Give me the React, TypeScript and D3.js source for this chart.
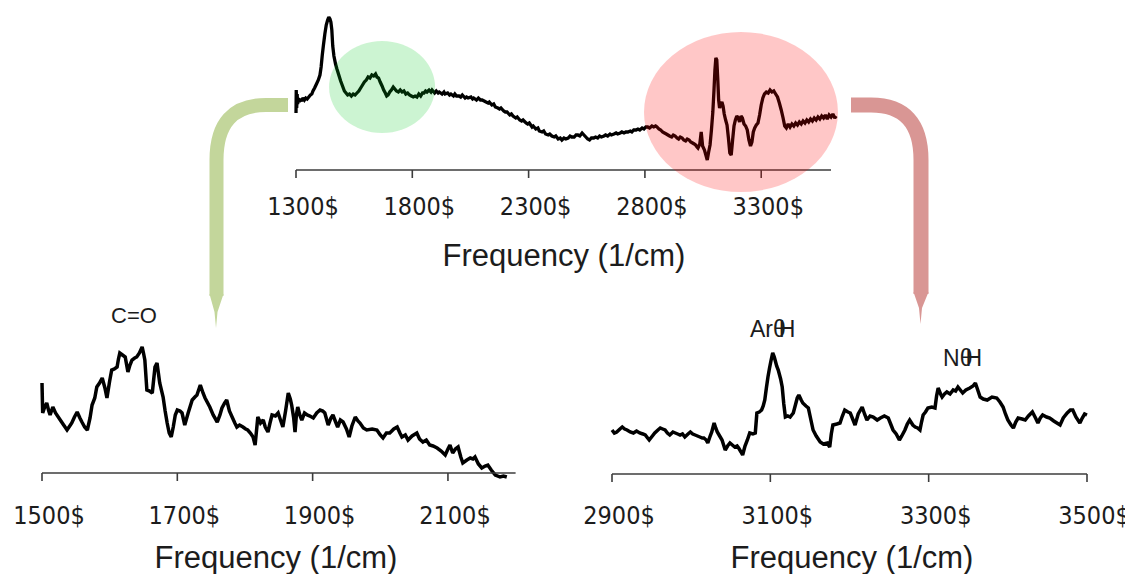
import React from "react";
import * as d3 from "d3";

// ---------- data ----------
const topTicks = [1300, 1800, 2300, 2800, 3300];
const leftTicks = [1500, 1700, 1900, 2100];
const rightTicks = [2900, 3100, 3300, 3500];
const tickSuffix = "$";
const axisTitle = "Frequency (1/cm)";

// full spectrum [frequency, intensity]
const topSpectrum: [number, number][] = [
  [1300,57],[1301,80],[1303,62],[1305,76],[1307,66],[1310,72],[1314,68],[1318,71],[1324,69],[1330,72],[1336,70],[1342,72],[1348,71],[1355,73],[1362,75],[1368,76],[1373,79],[1380,82],[1388,86],[1396,90],[1403,95],[1408,103],[1413,115],[1418,125],[1424,136],[1430,145],[1436,150],[1441,153],[1446,151],[1450,148],[1454,140],[1458,124],[1463,114],[1470,106],[1476,101],[1484,95],[1492,89],[1500,84],[1508,79],[1515,77],[1522,75],[1530,76],[1538,74],[1546,76],[1554,75],[1562,77],[1570,79],[1578,82],[1586,85],[1594,88],[1602,90],[1610,93],[1618,92],[1626,95],[1634,94],[1642,96],[1648,93],[1655,92],[1662,88],[1670,84],[1677,80],[1684,77],[1690,74],[1696,75],[1703,78],[1710,80],[1718,83],[1725,81],[1732,79],[1740,78],[1748,80],[1756,78],[1764,79],[1772,76],[1780,77],[1788,75],[1796,74],[1804,73],[1812,74],[1820,73],[1828,76],[1836,74],[1844,77],
  [1850,77],[1857,79],[1863,78],[1872,80],[1880,78],[1885,80],[1896,77],[1903,79],[1911,77],[1916,78],[1928,76],[1936,78],[1941,76],[1952,77],[1960,75],[1966,76],[1977,74],[1983,76],[1990,74],[2001,74],[2008,73],[2015,75],[2027,72],[2033,73],[2040,72],[2052,73],[2059,71],[2064,72],[2076,70],[2084,72],[2093,70],[2100,70],[2109,69],[2117,68],[2126,67],[2131,68],[2142,65],[2150,66],[2157,63],[2168,62],[2175,61],[2181,62],[2193,59],[2200,58],[2207,58],[2219,55],[2226,56],[2233,54],[2245,52],[2251,53],[2262,50],[2270,49],[2276,50],[2289,47],[2296,46],[2303,47],[2315,43],[2320,44],[2331,41],[2340,42],[2346,39],[2358,38],[2365,39],[2373,36],[2384,35],[2391,36],[2400,34],[2410,33],[2417,34],[2427,31],[2436,32],[2443,30],[2452,32],[2460,31],[2470,32],[2478,34],[2485,33],[2496,33],[2504,35],[2512,35],[2520,34],[2530,37],[2538,35],[2546,33],[2554,31],[2562,30],[2570,32],[2580,32],[2588,33],[2597,32],[2605,34],[2613,33],[2624,34],[2631,35],[2640,34],[2650,36],[2656,35],[2667,36],[2676,37],[2683,36],[2694,37],[2701,38],[2710,37],[2718,38],[2727,38],[2737,39],[2744,38],[2752,40],[2762,40],[2770,41],[2778,40],[2788,42],[2796,41],[2804,43],[2812,43],[2820,42],[2830,44],[2838,43],[2846,44],[2852,43],[2860,41],[2868,40],[2876,38],[2884,37],[2892,36],[2899,35],
  [2906,34],[2915,33],[2922,35],[2930,34],[2938,32],[2945,31],[2952,33],[2960,32],[2967,30],[2975,29],[2982,31],[2990,30],[2997,28],[3005,27],[3012,26],[3018,25],[3024,23],[3028,22],[3036,26],[3042,38],[3048,24],[3056,20],[3062,15],[3068,10],[3074,18],[3080,25],[3086,40],[3092,58],[3097,80],[3101,100],[3105,112],[3109,110],[3113,92],[3117,70],[3121,62],[3126,66],[3131,68],[3136,64],[3141,56],[3147,50],[3153,45],[3159,32],[3165,17],[3171,15],[3177,30],[3183,44],[3189,50],[3195,54],[3201,52],[3207,48],[3213,54],[3219,52],[3226,46],[3233,44],[3240,40],[3247,30],[3254,24],[3260,28],[3266,38],[3272,42],[3279,45],[3286,47],[3293,55],[3300,65],[3307,72],[3314,76],[3322,78],[3330,77],[3338,80],[3346,78],[3354,79],[3362,76],[3370,73],[3378,67],[3386,60],[3394,52],[3401,44],[3408,42],[3416,46],[3424,43],[3432,46],[3440,44],[3448,47],[3456,45],[3464,48],[3472,46],[3480,49],[3488,47],[3496,50],[3504,48],[3512,51],[3520,49],[3528,52],[3536,50],[3544,53],[3552,51],[3560,54],[3568,52],[3576,55],[3584,51],[3592,55],[3600,53],[3608,56],[3616,52],[3622,54]
];

// C=O region zoom
const leftSpectrum: [number, number][] = [
  [1500,90],[1501,60],[1504,66],[1507,70],[1510,62],[1512,58],[1516,66],[1520,60],[1527,53],[1532,48],[1537,43],[1541,47],[1544,50],[1548,56],[1552,61],[1556,55],[1559,51],[1563,46],[1567,43],[1571,55],[1574,68],[1578,75],[1581,86],[1585,90],[1589,95],[1593,85],[1596,75],[1600,92],[1603,103],[1607,104],[1611,106],[1613,114],[1615,120],[1619,118],[1623,116],[1627,101],[1630,108],[1633,113],[1637,115],[1640,116],[1644,120],[1648,126],[1650,120],[1652,113],[1655,83],[1659,82],[1663,80],[1667,106],[1670,110],[1672,100],[1674,90],[1679,76],[1682,62],[1685,50],[1688,40],[1691,36],[1694,46],[1697,58],[1700,63],[1704,62],[1707,60],[1711,48],[1716,60],[1722,73],[1726,76],[1729,78],[1734,88],[1738,80],[1741,75],[1748,66],[1753,58],[1759,51],[1763,58],[1766,65],[1770,70],[1773,73],[1777,62],[1781,56],[1785,50],[1788,46],[1792,48],[1797,46],[1801,44],[1804,43],[1808,40],[1812,36],[1815,28],[1819,56],[1823,50],[1827,53],[1830,46],[1834,41],[1837,50],[1840,58],[1845,57],[1849,60],[1853,52],[1856,46],[1860,62],[1864,80],[1867,74],[1869,68],[1872,55],[1874,41],[1876,58],[1878,66],[1881,58],[1884,53],[1888,60],[1892,58],[1896,57],[1901,55],[1906,60],[1911,63],[1915,62],[1918,60],[1923,48],[1927,55],[1930,58],[1934,51],[1937,46],[1941,53],[1945,51],[1950,44],[1954,36],[1958,47],[1963,56],[1967,52],[1970,50],[1975,45],[1980,43],[1988,44],[1995,43],[2000,38],[2004,35],[2009,40],[2014,40],[2020,44],[2025,46],[2029,40],[2032,36],[2037,38],[2041,33],[2047,37],[2054,40],[2058,34],[2063,31],[2068,33],[2073,28],[2078,27],[2084,25],[2090,22],[2096,18],[2100,24],[2103,28],[2107,20],[2111,24],[2115,26],[2119,16],[2122,10],[2128,13],[2133,15],[2137,14],[2140,16],[2145,9],[2150,5],[2155,7],[2159,8],[2164,3],[2170,-2],[2177,-4],[2182,-3],[2187,-4]
];

// Ar-H / N-H region zoom
const rightSpectrum: [number, number][] = [
  [2900,44],[2903,41],[2906,42],[2910,45],[2913,47],[2916,45],[2919,44],[2923,42],[2927,41],[2931,43],[2935,41],[2939,40],[2942,39],[2945,36],[2947,34],[2951,38],[2954,41],[2958,44],[2961,46],[2964,45],[2967,44],[2970,41],[2973,39],[2977,42],[2980,41],[2983,40],[2986,39],[2989,40],[2992,37],[2996,40],[2999,42],[3002,40],[3005,39],[3008,38],[3011,37],[3014,36],[3016,36],[3019,34],[3021,31],[3024,38],[3026,42],[3029,51],[3031,46],[3033,42],[3036,38],[3039,34],[3041,29],[3043,24],[3046,28],[3049,31],[3052,29],[3055,27],[3058,28],[3060,26],[3063,22],[3065,19],[3068,28],[3071,34],[3074,41],[3078,40],[3081,41],[3083,61],[3086,62],[3089,64],[3091,68],[3093,74],[3095,86],[3097,97],[3099,106],[3101,114],[3103,121],[3105,117],[3106,114],[3108,108],[3110,104],[3113,95],[3115,87],[3117,70],[3119,57],[3122,58],[3125,57],[3127,59],[3129,61],[3132,70],[3134,76],[3136,79],[3139,74],[3141,71],[3145,68],[3148,66],[3151,55],[3154,44],[3158,38],[3163,32],[3167,30],[3172,31],[3175,27],[3177,40],[3179,49],[3184,50],[3188,51],[3191,58],[3194,64],[3198,62],[3201,61],[3204,55],[3207,49],[3211,60],[3216,67],[3219,60],[3222,54],[3226,58],[3230,57],[3235,54],[3239,56],[3244,58],[3249,56],[3252,50],[3255,44],[3259,40],[3263,34],[3266,38],[3270,44],[3273,50],[3276,54],[3280,49],[3283,47],[3286,46],[3289,44],[3291,52],[3293,59],[3296,62],[3299,66],[3304,67],[3308,66],[3310,78],[3312,86],[3315,80],[3317,77],[3320,80],[3323,82],[3327,80],[3331,84],[3334,83],[3337,87],[3340,84],[3343,81],[3347,84],[3352,86],[3356,88],[3359,91],[3362,84],[3365,77],[3369,75],[3374,74],[3380,77],[3386,76],[3390,72],[3394,67],[3397,60],[3400,54],[3404,49],[3407,46],[3410,52],[3413,56],[3418,55],[3422,54],[3426,58],[3431,62],[3435,56],[3438,51],[3441,56],[3444,59],[3449,57],[3453,56],[3458,53],[3462,51],[3466,49],[3470,56],[3475,61],[3479,64],[3482,64],[3486,57],[3491,51],[3494,56],[3497,60],[3500,59]
];

// annotations
const annoCO = "C=O";
const annoArH = ["Ar", "θ", "H"];
const annoNH = ["N", "θ", "H"];

// ---------- drawing ----------
const W = 1125;
const H = 574;
const tickFont = "'DejaVu Sans Condensed', 'DejaVu Sans', sans-serif";
const titleFont = "'Liberation Sans', Arial, sans-serif";
const textColor = "#1c1c1c";
const axisColor = "#3c3c3c";

type Panel = {
  x: d3.ScaleLinear<number, number>;
  y: d3.ScaleLinear<number, number>;
  axisY: number;
  domainEnd: number;
  ticks: number[];
  data: [number, number][];
  titleX: number;
  titleY: number;
  tickLabelY: number;
  strokeW: number;
};

function PanelView({ p }: { p: Panel }) {
  const line = d3
    .line<[number, number]>()
    .x((d) => p.x(d[0]))
    .y((d) => p.y(d[1]))
    .curve(d3.curveLinear);
  const [x0] = p.x.domain();
  return (
    <g>
      <path
        d={line(p.data) || ""}
        fill="none"
        stroke="#000"
        strokeWidth={p.strokeW}
        strokeLinejoin="miter"
        strokeMiterlimit={2}
      />
      <line
        x1={p.x(x0)}
        x2={p.x(p.domainEnd)}
        y1={p.axisY}
        y2={p.axisY}
        stroke={axisColor}
        strokeWidth={1.6}
      />
      {p.ticks.map((t) => (
        <g key={t}>
          <line
            x1={p.x(t)}
            x2={p.x(t)}
            y1={p.axisY}
            y2={p.axisY + 8}
            stroke={axisColor}
            strokeWidth={1.6}
          />
          <text
            x={p.x(t) + 7}
            y={p.tickLabelY}
            textAnchor="middle"
            fontFamily={tickFont}
            style={{ fontStretch: "condensed" }}
            fontSize={25}
            fill={textColor}
          >
            {t}
            {tickSuffix}
          </text>
        </g>
      ))}
      <text
        x={p.titleX}
        y={p.titleY}
        textAnchor="middle"
        fontFamily={titleFont}
        fontSize={31}
        fill={textColor}
      >
        {axisTitle}
      </text>
    </g>
  );
}

export default function App() {
  const top: Panel = {
    x: d3.scaleLinear().domain([1300, 3600]).range([296, 831]),
    y: d3.scaleLinear().domain([0, 170]).range([170, 0]),
    axisY: 170,
    domainEnd: 3600,
    ticks: topTicks,
    data: topSpectrum,
    titleX: 564,
    titleY: 266,
    tickLabelY: 215,
    strokeW: 3.3,
  };
  const left: Panel = {
    x: d3.scaleLinear().domain([1500, 2200]).range([42, 515.6]),
    y: d3.scaleLinear().domain([0, 130]).range([473, 343]),
    axisY: 473,
    domainEnd: 2200,
    ticks: leftTicks,
    data: leftSpectrum,
    titleX: 276,
    titleY: 568,
    tickLabelY: 524,
    strokeW: 3.5,
  };
  const right: Panel = {
    x: d3.scaleLinear().domain([2900, 3500]).range([612, 1087]),
    y: d3.scaleLinear().domain([0, 130]).range([474, 344]),
    axisY: 474,
    domainEnd: 3500,
    ticks: rightTicks,
    data: rightSpectrum,
    titleX: 852,
    titleY: 568,
    tickLabelY: 524,
    strokeW: 3.5,
  };

  const green = "#c3d69b";
  const red = "#d99694";

  return (
    <svg
      width={W}
      height={H}
      style={{ position: "absolute", left: 0, top: 0, background: "#fff" }}
    >
      <rect x={0} y={0} width={W} height={H} fill="#fff" />
      {/* connector arrows */}
      <path
        d="M288,105 L266,105 Q216.5,105 216.5,160 L216.5,296"
        fill="none"
        stroke={green}
        strokeWidth={14}
      />
      <path d="M209.5,294 L223.5,294 L217.5,312 L216,328 L214.5,312 Z" fill={green} />
      <path
        d="M851,105 L871,105 Q921,105 921,160 L921,294"
        fill="none"
        stroke={red}
        strokeWidth={15}
      />
      <path d="M913.5,292 L928.5,292 L922,308 L920.5,324 L919,308 Z" fill={red} />

      <PanelView p={top} />
      <PanelView p={left} />
      <PanelView p={right} />

      {/* highlight ellipses */}
      <ellipse
        cx={top.x(1670)}
        cy={top.y(83)}
        rx={53}
        ry={46}
        fill="rgb(0,200,30)"
        fillOpacity={0.2}
      />
      <ellipse
        cx={top.x(3213)}
        cy={top.y(58)}
        rx={97}
        ry={80}
        fill="rgb(255,0,0)"
        fillOpacity={0.22}
      />

      {/* annotations */}
      <text x={111} y={323} fontFamily={titleFont} fontSize={22} fill={textColor}>
        {annoCO}
      </text>
      <text x={750} y={337} fontFamily={titleFont} fontSize={23} fill={textColor}>
        <tspan>{annoArH[0]}</tspan>
        <tspan>{annoArH[1]}</tspan>
        <tspan dx={-7}>{annoArH[2]}</tspan>
      </text>
      <text x={943} y={366} fontFamily={titleFont} fontSize={23} fill={textColor}>
        <tspan>{annoNH[0]}</tspan>
        <tspan>{annoNH[1]}</tspan>
        <tspan dx={-7}>{annoNH[2]}</tspan>
      </text>
    </svg>
  );
}
